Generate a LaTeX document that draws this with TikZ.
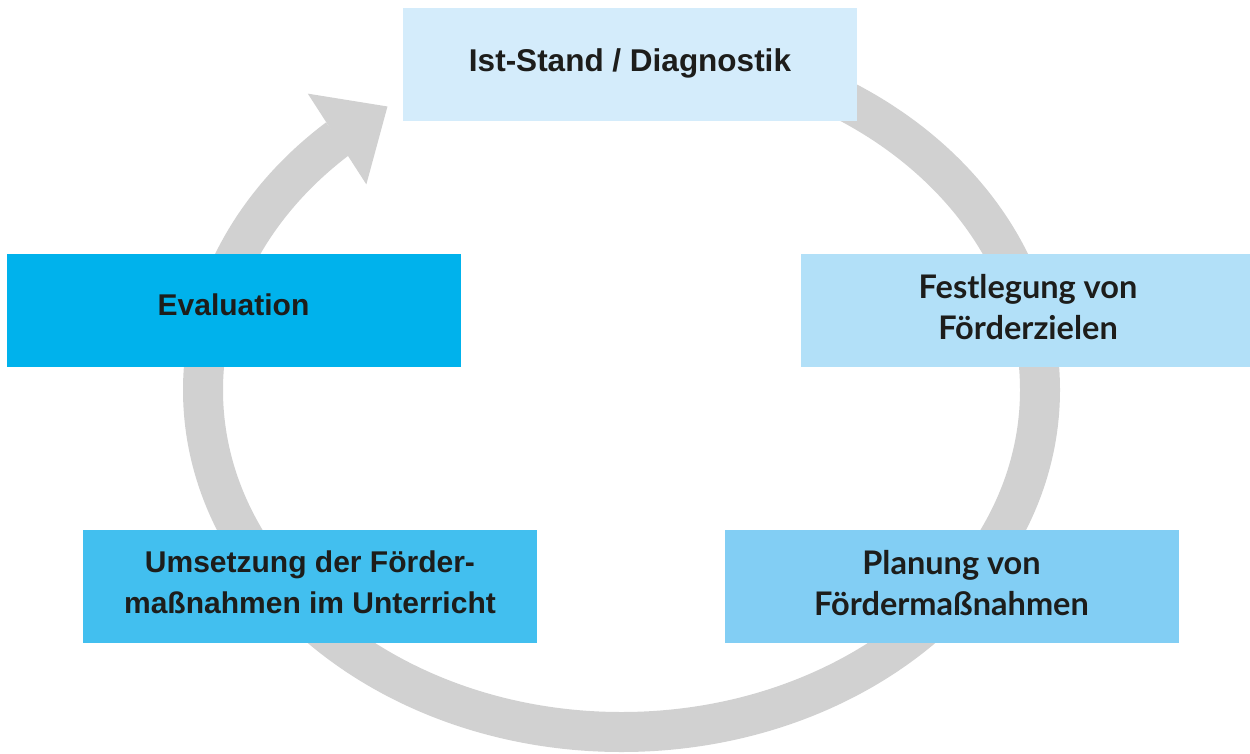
\documentclass[tikz,border=0pt]{standalone}
\usepackage{fontspec}
\setmainfont{Liberation Sans}
\newfontfamily\latofont{Lato}
\usetikzlibrary{arrows.meta, bending, positioning}
\definecolor{ringgray}{HTML}{D1D1D1}
\definecolor{textdark}{HTML}{1D1D1B}
\definecolor{blueist}{HTML}{D4ECFB}
\definecolor{blueziel}{HTML}{B2E0F8}
\definecolor{blueplan}{HTML}{82CEF4}
\definecolor{blueumset}{HTML}{42BFEF}
\definecolor{blueeval}{HTML}{00B2EC}
\tikzset{
	phase/.style={minimum width=454pt, minimum height=113pt, inner sep=0pt, align=center,
		text=textdark, text depth=8pt, font=\fontsize{30}{41}\selectfont\bfseries},
	phaselato/.style={phase, font=\fontsize{32.5}{41}\selectfont\latofont\bfseries},
	ring/.style={draw=ringgray, line width=40pt,
		-{Triangle[width=108pt, length=60pt, line width=0pt]}}
}
\begin{document}
\begin{tikzpicture}[x=1pt, y=-1pt]
			\useasboundingbox (0,0) rectangle (1250,753);
			\pgfmathsetmacro{\ringrx}{418.5}
			\pgfmathsetmacro{\ringry}{342}
			% Kreislauf
			\draw[ring] (621.5,390) ++(270:\ringrx pt and -\ringry pt)
				arc[start angle=270, end angle=596, x radius=\ringrx, y radius=\ringry];
			
			% Phasen
			\node[phase, fill=blueist, text depth=7pt, font=\fontsize{31.5}{41}\selectfont\bfseries] (ist) at (630,64) {Ist-Stand / Diagnostik};
			\node[phaselato, fill=blueziel] (ziele) at (1028,310.5) {Festlegung von\\Förderzielen};
			\node[phaselato, fill=blueplan] (planung) at (951.5,586.5) {Planung von\\Fördermaßnahmen};
			\node[phase, fill=blueumset] (umsetzung) at (310,586.5) {Umsetzung der Förder-\\maßnahmen im Unterricht};
			\node[phase, fill=blueeval, text depth=12pt] (evaluation) at (233.5,310.5) {Evaluation};
			
		\end{tikzpicture}
\end{document}
